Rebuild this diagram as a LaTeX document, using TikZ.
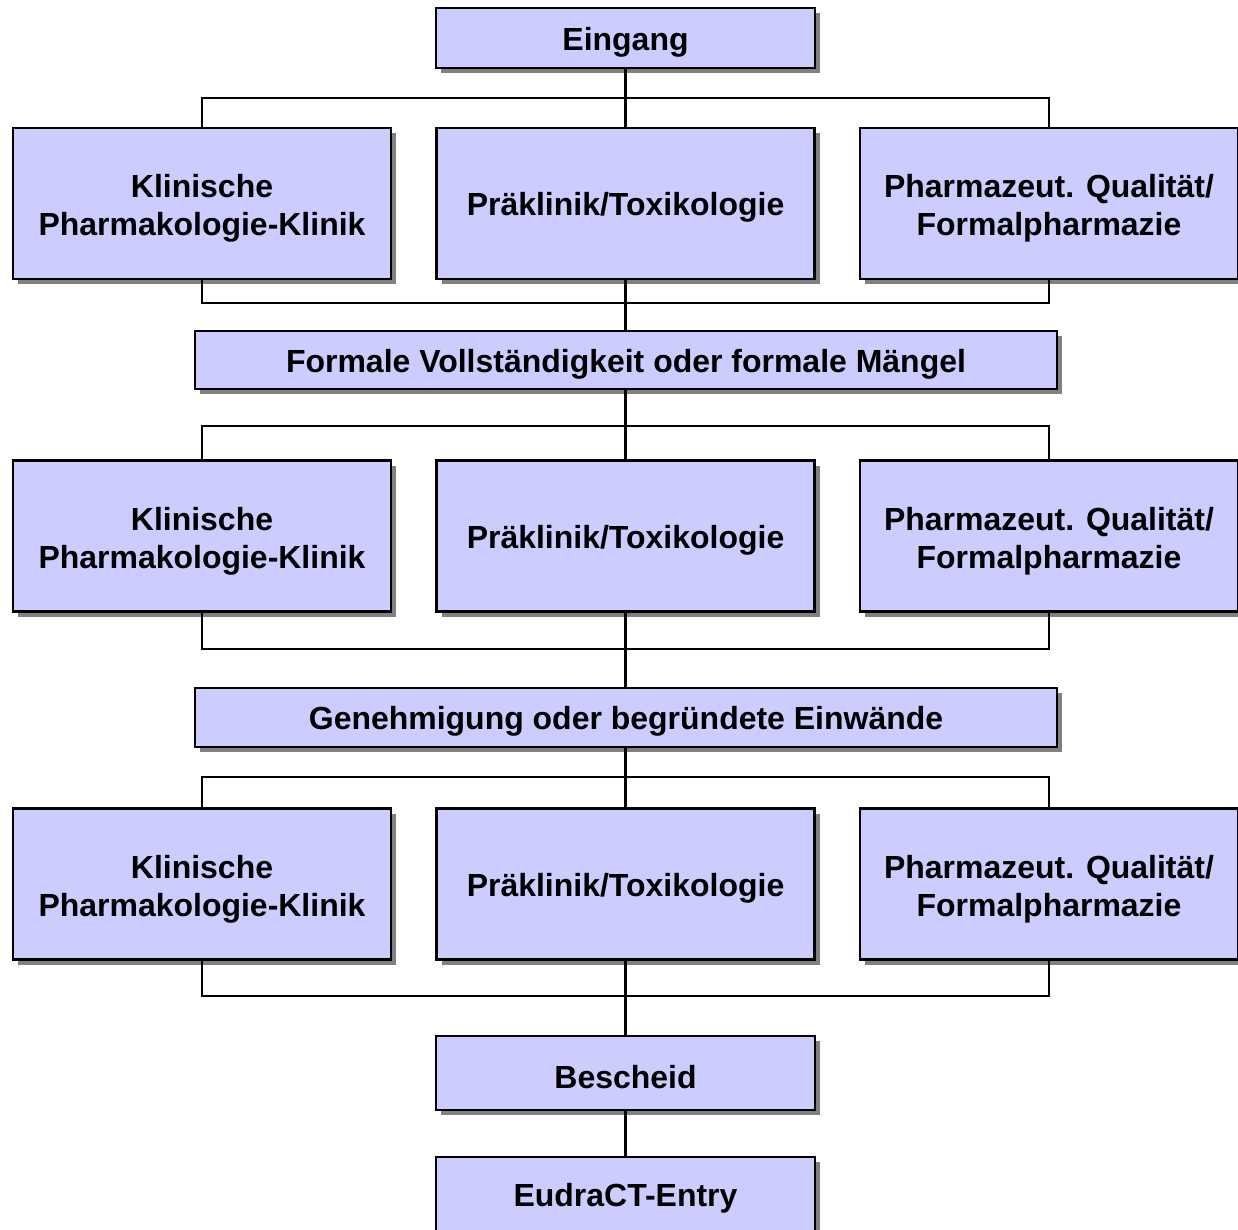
\documentclass[tikz,border=0pt]{standalone}
\usepackage{fontspec}
\setmainfont{Liberation Sans}
\usepackage{tikz}
\usetikzlibrary{shadows}
\definecolor{boxfill}{RGB}{204,204,255}
\newcommand{\topstrut}{\rule{0pt}{19pt}}

\tikzset{
    box/.style={draw=black, line width=1.3pt, fill=boxfill, inner sep=0pt, align=center,
        font=\fontsize{18.2}{21.5}\selectfont\bfseries,
        execute at begin node={\rule{0pt}{18pt}},
        drop shadow={shadow xshift=0.1cm, shadow yshift=-0.1cm, fill=black!50, opacity=1}},
    row/.style={box, minimum width=378*0.02cm, minimum height=151*0.02cm},
    link/.style={line width=1.3pt}
}

\begin{document}
\begin{tikzpicture}[x=0.02cm, y=-0.02cm]
    \useasboundingbox (0, 0) rectangle (1238, 1230);
    \node[box, minimum width=379*0.02cm, minimum height=60*0.02cm] (ein) at (625.5, 38) {Eingang};
    \node[row] (kl1) at (202, 203.5) {\topstrut Klinische\\Pharmakologie-Klinik};
    \node[row] (pk1) at (625.5, 203.5) {Präklinik/Toxikologie};
    \node[row] (ph1) at (1049, 203.5) {\topstrut Pharmazeut. Qualität/\\Formalpharmazie};
    \node[box, minimum width=862*0.02cm, minimum height=58*0.02cm] (form) at (626, 360) {Formale Vollständigkeit oder formale Mängel};
    \node[row] (kl2) at (202, 536) {\topstrut Klinische\\Pharmakologie-Klinik};
    \node[row] (pk2) at (625.5, 536) {Präklinik/Toxikologie};
    \node[row] (ph2) at (1049, 536) {\topstrut Pharmazeut. Qualität/\\Formalpharmazie};
    \node[box, minimum width=862*0.02cm, minimum height=59*0.02cm] (gen) at (626, 717.5) {Genehmigung oder begründete Einwände};
    \node[row] (kl3) at (202, 884) {\topstrut Klinische\\Pharmakologie-Klinik};
    \node[row] (pk3) at (625.5, 884) {Präklinik/Toxikologie};
    \node[row] (ph3) at (1049, 884) {\topstrut Pharmazeut. Qualität/\\Formalpharmazie};
    \node[box, minimum width=379*0.02cm, minimum height=74*0.02cm] (bes) at (625.5, 1073) {Bescheid};
    \node[box, minimum width=379*0.02cm, minimum height=74*0.02cm] (eud) at (625.5, 1194) {EudraCT-Entry};
    % bus levels
    \coordinate (t1) at (625.5, 98);
    \coordinate (b1) at (625.5, 303);
    \coordinate (t2) at (625.5, 426);
    \coordinate (b2) at (625.5, 649);
    \coordinate (t3) at (625.5, 777);
    \coordinate (b3) at (625.5, 996);
    \draw[link] (ein.south) -- (t1) -- (pk1.north);
    \draw[link] (kl1.north) |- (t1) -| (ph1.north);
    \draw[link] (pk1.south) -- (b1) -- (form.north -| b1);
    \draw[link] (kl1.south) |- (b1) -| (ph1.south);
    \draw[link] (form.south -| t2) -- (t2) -- (pk2.north);
    \draw[link] (kl2.north) |- (t2) -| (ph2.north);
    \draw[link] (pk2.south) -- (b2) -- (gen.north -| b2);
    \draw[link] (kl2.south) |- (b2) -| (ph2.south);
    \draw[link] (gen.south -| t3) -- (t3) -- (pk3.north);
    \draw[link] (kl3.north) |- (t3) -| (ph3.north);
    \draw[link] (pk3.south) -- (b3) -- (bes.north);
    \draw[link] (kl3.south) |- (b3) -| (ph3.south);
    \draw[link] (bes.south) -- (eud.north);
\end{tikzpicture}
\end{document}
